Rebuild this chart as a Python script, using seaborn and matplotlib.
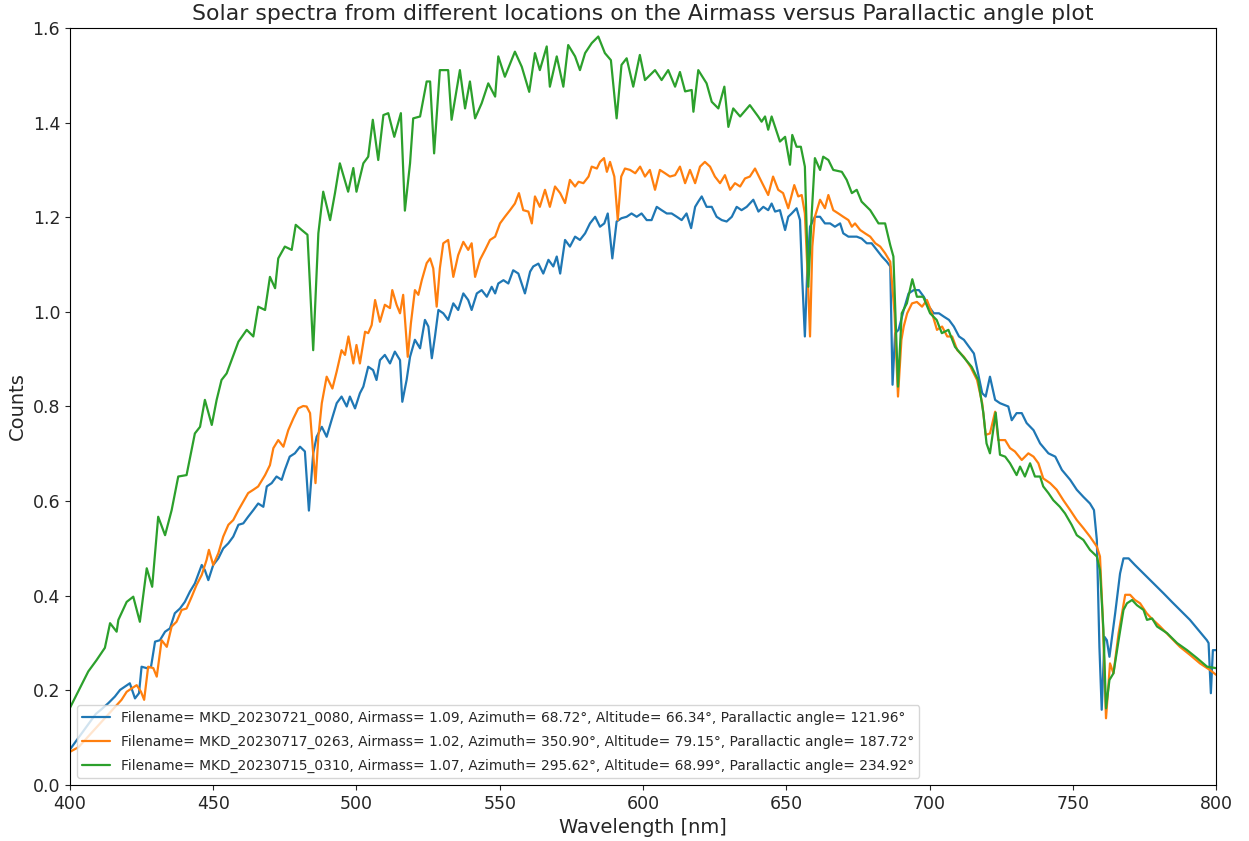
import matplotlib
matplotlib.use("Agg")
import matplotlib.pyplot as plt
import seaborn as sns
import pandas as pd

labels = [
    "Filename= MKD_20230721_0080, Airmass= 1.09, Azimuth= 68.72°, Altitude= 66.34°, Parallactic angle= 121.96°",
    "Filename= MKD_20230717_0263, Airmass= 1.02, Azimuth= 350.90°, Altitude= 79.15°, Parallactic angle= 187.72°",
    "Filename= MKD_20230715_0310, Airmass= 1.07, Azimuth= 295.62°, Altitude= 68.99°, Parallactic angle= 234.92°",
]

wl_blue = [400.0, 403.0, 406.0, 409.0, 411.0, 413.4, 415.7, 417.5, 419.2, 420.9, 422.7, 424.1, 425.0, 426.8, 428.3,
           429.7, 431.4, 433.2, 434.9, 436.6, 438.4, 440.1, 441.9, 443.6, 446.0, 447.1, 448.3, 450.0, 451.8, 453.5,
           455.3, 457.0, 458.8, 460.5, 462.2, 464.0, 465.7, 467.5, 468.7, 470.4, 472.1, 473.9, 475.0, 476.7, 478.5,
           480.3, 482.0, 483.4, 484.9, 486.1, 487.9, 489.6, 491.3, 493.1, 494.8, 496.6, 497.7, 499.5, 501.2, 502.4,
           504.1, 505.8, 507.0, 508.2, 509.9, 511.7, 513.4, 515.2, 516.0, 517.5, 518.7, 520.4, 522.2, 523.9, 525.1,
           526.3, 527.4, 528.6, 530.3, 532.0, 533.8, 535.5, 537.3, 539.0, 540.2, 542.0, 543.7, 545.5, 547.2, 548.4,
           549.5, 551.3, 553.0, 554.7, 556.5, 558.8, 560.6, 561.7, 563.5, 565.2, 567.0, 568.7, 569.9, 571.1, 572.8,
           574.5, 576.3, 578.0, 579.8, 581.5, 583.3, 585.0, 586.5, 587.7, 589.3, 590.8, 592.5, 594.3, 596.0, 597.8,
           599.5, 601.3, 603.0, 604.8, 606.5, 608.3, 610.0, 611.8, 613.5, 615.2, 616.8, 618.2, 619.3, 620.5, 622.2,
           624.0, 625.7, 627.5, 629.2, 631.0, 632.7, 634.4, 636.2, 638.5, 640.3, 642.0, 643.7, 644.9, 646.1, 647.8,
           649.6, 650.7, 651.9, 653.6, 654.8, 655.6, 656.5, 657.3, 658.3, 660.0, 661.8, 663.5, 665.3, 667.0, 668.8,
           669.9, 671.7, 672.9, 674.6, 676.3, 678.1, 679.8, 681.6, 683.4, 685.1, 686.3, 687.1, 688.0, 689.2, 691.0,
           692.7, 694.5, 696.3, 698.0, 699.8, 701.5, 703.3, 705.0, 706.8, 708.5, 710.3, 712.0, 713.8, 715.5, 716.7,
           718.4, 719.6, 721.1, 722.9, 724.6, 727.5, 728.7, 730.4, 732.2, 733.9, 736.3, 738.6, 741.5, 743.9, 746.2,
           749.1, 751.4, 753.7, 756.0, 757.4, 758.4, 759.3, 760.1, 761.1, 761.9, 762.8, 764.8, 766.5, 767.7, 769.5,
           771.7, 774.7, 777.0, 779.4, 781.7, 784.6, 787.4, 790.9, 793.8, 796.8, 797.4, 798.2, 798.9, 800.0]
val_blue = [0.075, 0.10, 0.125, 0.15, 0.16, 0.173, 0.187, 0.201, 0.208, 0.215, 0.183, 0.194, 0.25, 0.247, 0.25,
            0.303, 0.306, 0.324, 0.331, 0.363, 0.373, 0.387, 0.409, 0.426, 0.465, 0.454, 0.433, 0.465, 0.479, 0.5,
            0.511, 0.525, 0.55, 0.553, 0.567, 0.581, 0.595, 0.588, 0.631, 0.638, 0.652, 0.645, 0.666, 0.694, 0.701,
            0.715, 0.705, 0.58, 0.701, 0.736, 0.757, 0.736, 0.771, 0.807, 0.821, 0.8, 0.821, 0.796, 0.828, 0.842,
            0.884, 0.877, 0.856, 0.898, 0.909, 0.891, 0.916, 0.898, 0.81, 0.856, 0.905, 0.941, 0.923, 0.983, 0.969,
            0.902, 0.948, 1.004, 0.997, 0.983, 1.018, 1.004, 1.039, 1.025, 1.004, 1.039, 1.046, 1.032, 1.053, 1.039,
            1.06, 1.067, 1.06, 1.088, 1.081, 1.039, 1.085, 1.096, 1.102, 1.081, 1.11, 1.096, 1.117, 1.081, 1.152,
            1.138, 1.159, 1.152, 1.166, 1.187, 1.201, 1.18, 1.187, 1.208, 1.113, 1.191, 1.198, 1.201, 1.208, 1.201,
            1.208, 1.194, 1.194, 1.222, 1.215, 1.208, 1.208, 1.201, 1.194, 1.208, 1.177, 1.222, 1.233, 1.244, 1.222,
            1.222, 1.201, 1.194, 1.191, 1.201, 1.222, 1.215, 1.222, 1.237, 1.212, 1.222, 1.215, 1.229, 1.212, 1.215,
            1.173, 1.201, 1.208, 1.219, 1.194, 1.067, 0.948, 1.081, 1.18, 1.201, 1.201, 1.187, 1.187, 1.18, 1.187,
            1.166, 1.159, 1.159, 1.159, 1.155, 1.145, 1.145, 1.131, 1.117, 1.106, 1.096, 0.846, 0.955, 0.962, 1.004,
            1.039, 1.046, 1.046, 1.032, 1.011, 0.997, 0.997, 0.99, 0.983, 0.969, 0.948, 0.941, 0.926, 0.912, 0.877,
            0.828, 0.821, 0.863, 0.814, 0.807, 0.8, 0.771, 0.786, 0.786, 0.765, 0.75, 0.722, 0.701, 0.694, 0.666,
            0.645, 0.624, 0.609, 0.595, 0.581, 0.518, 0.292, 0.159, 0.313, 0.306, 0.271, 0.363, 0.447, 0.479, 0.479,
            0.465, 0.447, 0.433, 0.419, 0.405, 0.387, 0.37, 0.349, 0.328, 0.306, 0.3, 0.194, 0.285, 0.285]

wl_orange = [400.0, 403.0, 406.0, 409.0, 412.0, 415.0, 418.0, 419.8, 421.5, 423.3, 424.8, 425.9, 427.3, 429.1, 430.3,
             432.0, 433.8, 435.5, 437.2, 439.0, 440.7, 442.5, 444.2, 446.0, 447.7, 448.5, 450.0, 451.8, 453.5, 455.3,
             457.0, 458.8, 460.5, 462.2, 464.0, 465.7, 468.1, 469.8, 471.0, 472.7, 474.5, 476.2, 478.0, 479.7, 481.4,
             482.6, 483.8, 484.9, 485.7, 486.7, 487.9, 489.6, 491.6, 493.1, 494.8, 496.0, 497.2, 498.9, 500.0, 501.2,
             503.0, 504.1, 505.3, 506.5, 508.2, 509.9, 511.7, 512.5, 514.0, 515.2, 516.3, 517.9, 519.0, 520.4, 521.6,
             522.8, 524.5, 525.7, 526.8, 528.0, 529.1, 530.3, 532.0, 533.8, 535.5, 537.3, 539.0, 540.2, 541.4, 543.1,
             544.9, 546.6, 548.4, 550.1, 551.8, 553.6, 555.3, 556.7, 558.2, 560.0, 561.2, 562.3, 564.0, 565.8, 567.5,
             569.3, 571.1, 572.8, 574.5, 576.3, 577.5, 579.2, 581.0, 582.1, 583.9, 585.0, 586.4, 587.4, 588.5, 590.0,
             591.2, 592.4, 593.7, 595.5, 597.3, 599.0, 600.7, 602.4, 604.2, 605.9, 607.7, 609.4, 611.2, 612.9, 614.7,
             616.4, 618.2, 619.9, 621.6, 623.4, 625.1, 626.9, 628.6, 630.4, 632.1, 633.9, 635.6, 637.3, 639.1, 640.8,
             643.7, 645.4, 647.2, 648.9, 650.7, 652.8, 654.2, 655.4, 656.5, 657.7, 658.3, 659.1, 660.0, 661.8, 663.5,
             664.7, 666.4, 668.2, 669.9, 671.7, 672.9, 674.0, 675.8, 677.5, 679.3, 681.1, 682.8, 684.5, 686.3, 687.8,
             689.0, 690.2, 691.0, 692.2, 693.9, 695.6, 697.4, 699.1, 700.9, 702.6, 704.4, 706.2, 707.9, 709.7, 712.0,
             714.3, 716.6, 718.4, 719.6, 721.1, 722.9, 724.0, 726.4, 728.1, 729.8, 732.2, 734.5, 736.3, 738.0, 739.7,
             742.1, 744.4, 746.7, 749.1, 751.4, 753.7, 756.0, 758.4, 759.5, 760.4, 761.6, 763.0, 764.2, 766.0, 768.3,
             770.0, 771.7, 773.5, 775.8, 777.5, 780.5, 784.0, 787.4, 790.9, 794.4, 797.9, 800.0]
val_orange = [0.07, 0.08, 0.10, 0.12, 0.14, 0.16, 0.18, 0.197, 0.204, 0.211, 0.197, 0.18, 0.25, 0.247, 0.229,
              0.306, 0.292, 0.335, 0.345, 0.37, 0.373, 0.398, 0.423, 0.444, 0.476, 0.497, 0.465, 0.49, 0.525, 0.55,
              0.56, 0.581, 0.599, 0.617, 0.624, 0.631, 0.655, 0.676, 0.712, 0.729, 0.715, 0.75, 0.775, 0.796, 0.801,
              0.80, 0.786, 0.701, 0.638, 0.736, 0.807, 0.863, 0.838, 0.874, 0.919, 0.909, 0.948, 0.891, 0.93, 0.891,
              0.958, 0.955, 0.972, 1.025, 0.979, 1.015, 1.008, 1.046, 1.015, 0.997, 1.036, 0.905, 0.976, 1.046, 1.036,
              1.067, 1.103, 1.113, 1.092, 1.011, 1.092, 1.145, 1.152, 1.074, 1.12, 1.148, 1.131, 1.145, 1.074, 1.11,
              1.131, 1.152, 1.159, 1.187, 1.201, 1.215, 1.229, 1.251, 1.215, 1.212, 1.187, 1.244, 1.222, 1.258, 1.222,
              1.265, 1.251, 1.23, 1.279, 1.265, 1.275, 1.272, 1.286, 1.307, 1.303, 1.317, 1.325, 1.296, 1.317, 1.286,
              1.194, 1.286, 1.303, 1.3, 1.293, 1.307, 1.286, 1.3, 1.258, 1.3, 1.293, 1.286, 1.289, 1.307, 1.272,
              1.3, 1.272, 1.307, 1.317, 1.307, 1.286, 1.272, 1.289, 1.258, 1.272, 1.265, 1.282, 1.286, 1.303, 1.282,
              1.247, 1.286, 1.258, 1.251, 1.219, 1.268, 1.244, 1.247, 1.208, 1.046, 0.948, 1.138, 1.201, 1.237, 1.219,
              1.247, 1.215, 1.208, 1.201, 1.194, 1.18, 1.187, 1.173, 1.166, 1.159, 1.145, 1.138, 1.124, 1.106, 0.997,
              0.821, 0.941, 0.969, 0.997, 1.018, 1.021, 1.011, 1.025, 0.997, 0.962, 0.969, 0.948, 0.948, 0.919, 0.905,
              0.884, 0.856, 0.807, 0.74, 0.743, 0.789, 0.729, 0.729, 0.712, 0.705, 0.687, 0.701, 0.694, 0.68, 0.648,
              0.638, 0.624, 0.602, 0.581, 0.56, 0.543, 0.525, 0.504, 0.483, 0.363, 0.141, 0.257, 0.236, 0.321, 0.402,
              0.402, 0.391, 0.384, 0.363, 0.352, 0.335, 0.313, 0.292, 0.275, 0.257, 0.243, 0.233]

wl_green = [400.0, 403.5, 406.4, 409.3, 412.2, 414.0, 416.3, 416.9, 419.8, 422.1, 424.4, 426.8, 428.7, 430.8, 433.2,
            435.5, 437.8, 440.7, 441.3, 443.6, 445.4, 447.1, 449.5, 451.2, 452.9, 454.7, 456.4, 458.8, 461.7, 464.0,
            465.7, 468.1, 469.8, 471.6, 472.7, 475.0, 477.4, 478.8, 480.9, 482.9, 484.9, 486.7, 488.4, 490.8, 492.5,
            494.2, 497.1, 498.9, 500.0, 502.4, 504.1, 505.7, 507.6, 509.4, 511.1, 513.2, 515.5, 516.9, 518.7, 519.8,
            522.2, 524.5, 525.7, 527.1, 529.1, 532.0, 533.2, 536.1, 537.9, 539.6, 541.4, 543.7, 546.0, 548.4, 549.5,
            551.8, 555.3, 557.7, 560.3, 562.3, 564.0, 566.4, 567.5, 569.9, 572.2, 573.9, 576.3, 578.0, 579.8, 582.1,
            584.4, 586.7, 588.8, 590.8, 592.5, 594.3, 596.6, 598.9, 600.7, 604.2, 606.5, 608.8, 611.2, 612.9, 614.7,
            617.0, 617.6, 619.3, 622.2, 624.0, 626.3, 628.4, 629.8, 631.5, 633.9, 637.3, 640.2, 641.4, 642.6, 643.7,
            644.9, 647.8, 649.6, 651.3, 652.1, 653.6, 655.1, 656.5, 657.7, 658.9, 660.0, 661.8, 662.9, 664.7, 666.4,
            669.4, 671.1, 672.9, 674.6, 676.3, 679.3, 682.2, 684.5, 686.3, 687.4, 689.0, 690.3, 692.1, 694.0, 695.6,
            697.8, 700.2, 702.5, 704.3, 706.6, 708.9, 711.8, 714.7, 717.0, 718.8, 719.9, 721.1, 723.1, 724.6, 726.4,
            728.1, 730.4, 731.6, 733.3, 735.1, 736.8, 738.6, 739.7, 741.5, 743.2, 745.5, 747.3, 749.6, 751.4, 753.7,
            756.0, 758.4, 759.5, 760.7, 761.6, 762.8, 764.2, 766.0, 767.7, 768.9, 770.7, 772.4, 774.7, 775.9, 777.7,
            779.4, 782.9, 786.4, 789.9, 793.4, 796.9, 800.0]
val_green = [0.163, 0.205, 0.24, 0.264, 0.29, 0.342, 0.324, 0.349, 0.387, 0.398, 0.345, 0.458, 0.419, 0.567, 0.528,
             0.581, 0.652, 0.655, 0.673, 0.743, 0.757, 0.814, 0.761, 0.814, 0.856, 0.87, 0.898, 0.937, 0.962, 0.948,
             1.011, 1.004, 1.074, 1.05, 1.113, 1.138, 1.131, 1.184, 1.173, 1.163, 0.919, 1.166, 1.254, 1.194, 1.251,
             1.314, 1.254, 1.304, 1.254, 1.314, 1.328, 1.406, 1.321, 1.416, 1.42, 1.37, 1.42, 1.214, 1.314, 1.409,
             1.413, 1.487, 1.487, 1.335, 1.511, 1.511, 1.406, 1.511, 1.43, 1.487, 1.409, 1.441, 1.483, 1.455, 1.54,
             1.497, 1.55, 1.518, 1.465, 1.547, 1.511, 1.561, 1.476, 1.54, 1.476, 1.564, 1.54, 1.511, 1.547, 1.568,
             1.582, 1.547, 1.532, 1.409, 1.522, 1.536, 1.476, 1.543, 1.49, 1.511, 1.49, 1.511, 1.476, 1.507, 1.466,
             1.469, 1.423, 1.511, 1.483, 1.444, 1.43, 1.476, 1.391, 1.43, 1.413, 1.437, 1.413, 1.402, 1.413, 1.385,
             1.413, 1.36, 1.37, 1.311, 1.374, 1.349, 1.349, 1.307, 1.053, 1.208, 1.325, 1.3, 1.328, 1.321, 1.3,
             1.296, 1.279, 1.251, 1.258, 1.233, 1.215, 1.187, 1.187, 1.141, 1.117, 0.842, 0.997, 1.018, 1.069, 1.032,
             1.032, 0.997, 0.983, 0.955, 0.962, 0.926, 0.905, 0.884, 0.856, 0.786, 0.722, 0.701, 0.787, 0.698, 0.694,
             0.68, 0.655, 0.673, 0.652, 0.68, 0.652, 0.652, 0.631, 0.617, 0.602, 0.588, 0.574, 0.55, 0.528, 0.518,
             0.497, 0.483, 0.454, 0.328, 0.162, 0.222, 0.236, 0.306, 0.37, 0.384, 0.391, 0.38, 0.37, 0.349, 0.352,
             0.335, 0.321, 0.3, 0.285, 0.268, 0.25, 0.247]

colors = ["#1f77b4", "#ff7f0e", "#2ca02c"]

sns.set_style("ticks")
plt.rcParams["font.family"] = ["DejaVu Sans"]

fig = plt.figure(figsize=(12.49, 8.41), dpi=100)
ax = fig.add_axes([0.056, 0.0666, 0.9176, 0.9001])

series = [(wl_blue, val_blue), (wl_orange, val_orange), (wl_green, val_green)]
for (wl, val), lab, col in zip(series, labels, colors):
    df = pd.DataFrame({"Wavelength": wl, "Counts": val})
    sns.lineplot(data=df, x="Wavelength", y="Counts", ax=ax, color=col, label=lab,
                 linewidth=1.6, sort=True, estimator=None)

ax.set_xlim(400, 800)
ax.set_ylim(0.0, 1.6)
ax.set_xlabel("Wavelength [nm]", fontsize=14)
ax.set_ylabel("Counts", fontsize=14)
ax.set_title("Solar spectra from different locations on the Airmass versus Parallactic angle plot", fontsize=15.8)
ax.tick_params(labelsize=12.5)
for s in ax.spines.values():
    s.set_visible(True)
    s.set_color("black")
ax.legend(loc="lower left", fontsize=9.9, labelspacing=0.7)

fig.savefig("out.png", dpi=100)
